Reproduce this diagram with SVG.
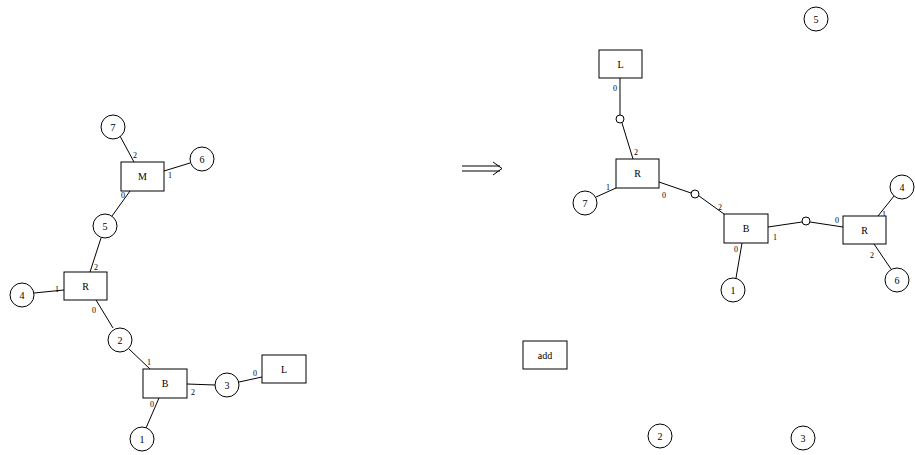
<svg xmlns="http://www.w3.org/2000/svg" width="915" height="455" viewBox="0 0 915 455">
<style>
.n{fill:#fff;stroke:#000;stroke-width:1}
.t{font-family:"Liberation Serif",serif;font-size:10px;text-anchor:middle;dominant-baseline:central;fill:#000}
.p{font-family:"Liberation Serif",serif;font-size:8px;fill:#000}
.e{stroke:#000;stroke-width:1;fill:none}
.j{fill:#fff;stroke:#000;stroke-width:1}
</style>
<rect width="915" height="455" fill="#fff"/>
<g id="connectors">
<line class="e" x1="120" y1="136" x2="134" y2="162"/>
<line class="e" x1="164" y1="171" x2="190" y2="163"/>
<line class="e" x1="130" y1="191" x2="112" y2="216"/>
<line class="e" x1="101" y1="238" x2="90" y2="272"/>
<line class="e" x1="34" y1="293" x2="64" y2="290"/>
<line class="e" x1="96" y1="300" x2="113" y2="328"/>
<line class="e" x1="129" y1="349" x2="150" y2="369"/>
<line class="e" x1="187" y1="384" x2="215" y2="385"/>
<line class="e" x1="239" y1="382" x2="262" y2="377"/>
<line class="e" x1="159" y1="398" x2="146" y2="428"/>
<line class="e" x1="620" y1="78" x2="620" y2="115"/>
<line class="e" x1="622" y1="123" x2="633" y2="159"/>
<line class="e" x1="596" y1="197" x2="616" y2="188"/>
<line class="e" x1="659" y1="182" x2="691" y2="193"/>
<line class="e" x1="699" y1="196" x2="724" y2="214"/>
<line class="e" x1="768" y1="227" x2="802" y2="222"/>
<line class="e" x1="810" y1="222" x2="843" y2="227"/>
<line class="e" x1="878" y1="216" x2="894" y2="196"/>
<line class="e" x1="874" y1="244" x2="891" y2="269"/>
<line class="e" x1="742" y1="243" x2="736" y2="278"/>
<circle class="j" cx="620" cy="119" r="4"/>
<circle class="j" cx="695" cy="194" r="4"/>
<circle class="j" cx="806" cy="221" r="4"/>
<text class="p" x="133" y="158">2</text>
<text class="p" x="168" y="178">1</text>
<text class="p" x="121" y="198">0</text>
<text class="p" x="94" y="270">2</text>
<text class="p" x="55" y="292">1</text>
<text class="p" x="92" y="313">0</text>
<text class="p" x="147" y="365">1</text>
<text class="p" x="191" y="395">2</text>
<text class="p" x="253" y="376">0</text>
<text class="p" x="150" y="407">0</text>
<text class="p" x="613" y="91">0</text>
<text class="p" x="634" y="155">2</text>
<text class="p" x="606" y="190">1</text>
<text class="p" x="662" y="198">0</text>
<text class="p" x="718" y="210">2</text>
<text class="p" x="773" y="240">1</text>
<text class="p" x="835" y="223">0</text>
<text class="p" x="882" y="217">1</text>
<text class="p" x="870" y="258">2</text>
<text class="p" x="734" y="252">0</text>
</g>
<g id="arrow">
<line class="e" x1="462" y1="166" x2="500" y2="166"/>
<line class="e" x1="462" y1="171" x2="500" y2="171"/>
<polyline class="e" points="493,162 502,168.5 493,175"/>
</g>
<g id="L7"><circle class="n" cx="113" cy="127" r="12"/><text class="t" x="113" y="127">7</text></g>
<g id="LM"><rect class="n" x="121" y="162" width="43" height="29"/><text class="t" x="142.5" y="176.5">M</text></g>
<g id="L6"><circle class="n" cx="202" cy="159" r="12"/><text class="t" x="202" y="159">6</text></g>
<g id="L5"><circle class="n" cx="105" cy="226" r="12"/><text class="t" x="105" y="226">5</text></g>
<g id="LR"><rect class="n" x="64" y="272" width="43" height="28"/><text class="t" x="85.5" y="286">R</text></g>
<g id="L4"><circle class="n" cx="22" cy="295" r="12"/><text class="t" x="22" y="295">4</text></g>
<g id="L2"><circle class="n" cx="120" cy="340" r="12"/><text class="t" x="120" y="340">2</text></g>
<g id="LB"><rect class="n" x="143" y="369" width="44" height="29"/><text class="t" x="165" y="383.5">B</text></g>
<g id="L3"><circle class="n" cx="227" cy="385" r="12"/><text class="t" x="227" y="385">3</text></g>
<g id="LL"><rect class="n" x="262" y="355" width="44" height="28"/><text class="t" x="284" y="369">L</text></g>
<g id="L1"><circle class="n" cx="142" cy="439" r="12"/><text class="t" x="142" y="439">1</text></g>
<g id="RL"><rect class="n" x="599" y="50" width="43" height="28"/><text class="t" x="620.5" y="64">L</text></g>
<g id="RR1"><rect class="n" x="616" y="159" width="43" height="29"/><text class="t" x="637.5" y="173.5">R</text></g>
<g id="R7"><circle class="n" cx="585" cy="203" r="12"/><text class="t" x="585" y="203">7</text></g>
<g id="RB"><rect class="n" x="724" y="214" width="44" height="29"/><text class="t" x="746" y="228.5">B</text></g>
<g id="RR2"><rect class="n" x="843" y="216" width="43" height="28"/><text class="t" x="864.5" y="230">R</text></g>
<g id="R4"><circle class="n" cx="902" cy="187" r="12"/><text class="t" x="902" y="187">4</text></g>
<g id="R6"><circle class="n" cx="897" cy="280" r="12"/><text class="t" x="897" y="280">6</text></g>
<g id="R1"><circle class="n" cx="733" cy="290" r="12"/><text class="t" x="733" y="290">1</text></g>
<g id="R5"><circle class="n" cx="816" cy="19" r="12"/><text class="t" x="816" y="19">5</text></g>
<g id="add"><rect class="n" x="523" y="341" width="44" height="28"/><text class="t" x="545" y="355">add</text></g>
<g id="R2"><circle class="n" cx="660" cy="436" r="12"/><text class="t" x="660" y="436">2</text></g>
<g id="R3"><circle class="n" cx="803" cy="438" r="12"/><text class="t" x="803" y="438">3</text></g>
</svg>
